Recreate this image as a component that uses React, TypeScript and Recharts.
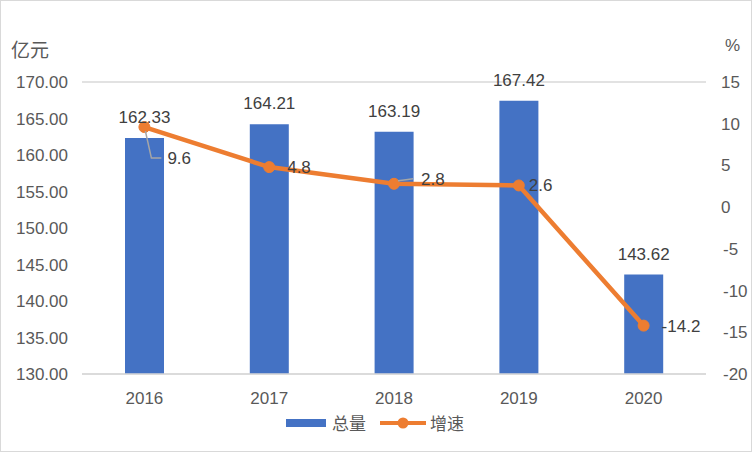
import {
  ComposedChart,
  Bar,
  Line,
  XAxis,
  YAxis,
  CartesianGrid,
  Legend,
  LabelList,
} from "recharts";

const years = ["2016", "2017", "2018", "2019", "2020"];
const totals = [162.33, 164.21, 163.19, 167.42, 143.62];
const growth = [9.6, 4.8, 2.8, 2.6, -14.2];
const leftTicks = [130, 135, 140, 145, 150, 155, 160, 165, 170];
const rightTicks = [-20, -15, -10, -5, 0, 5, 10, 15];

const FONT = '"Liberation Sans", "Noto Sans CJK SC", sans-serif';
const TEXT = "#595959";
const BLUE = "#4472C4";
const ORANGE = "#ED7D31";
const FS = 17;

// label placement for the growth points (dx, dy from the point), like Excel's manual labels
const growthLabelOffsets = [
  [23, 31],
  [18, 0],
  [27, -5],
  [10, 0],
  [18, 0],
];

const chartData = years.map((year, i) => ({
  year,
  total: totals[i],
  growth: growth[i],
}));

function GrowthLabel(props: any) {
  const { x, y, value, index } = props;
  const [dx, dy] = growthLabelOffsets[index] || [10, 0];
  const tx = x + dx;
  const ty = y + dy;
  return (
    <g>
      {index === 0 && (
        <polyline
          points={`${x + 1},${y + 4} ${x + 7},${ty} ${tx - 6},${ty}`}
          fill="none"
          stroke="#a6a6a6"
          strokeWidth={1.5}
        />
      )}
      {index === 2 && (
        <polyline
          points={`${x + 4},${y - 3} ${x + 12},${ty + 1} ${tx - 8},${ty}`}
          fill="none"
          stroke="#a6a6a6"
          strokeWidth={1.5}
        />
      )}
      <text
        x={tx}
        y={ty}
        dy={6}
        fill="#404040"
        fontSize={FS}
        fontFamily={FONT}
        textAnchor="start"
      >
        {value}
      </text>
    </g>
  );
}

function RightTick(props: any) {
  const { x, y, payload } = props;
  return (
    <text
      x={x + 13 + (payload.value < 0 ? 2 : 0)}
      y={y}
      dy={6}
      fill={TEXT}
      fontSize={FS}
      fontFamily={FONT}
      textAnchor="start"
    >
      {payload.value}
    </text>
  );
}

function LegendContent() {
  return (
    <div
      style={{
        display: "flex",
        justifyContent: "center",
        alignItems: "center",
        fontFamily: FONT,
        fontSize: FS,
        color: TEXT,
        marginLeft: -2,
        marginTop: 6,
      }}
    >
      <svg width={40} height={10} style={{ marginRight: 6 }}>
        <rect x={0} y={1} width={40} height={8} fill={BLUE} />
      </svg>
      <span style={{ marginRight: 14 }}>总量</span>
      <svg width={46} height={14} style={{ marginRight: 4 }}>
        <line x1={0} y1={7} x2={46} y2={7} stroke={ORANGE} strokeWidth={4} />
        <circle cx={23} cy={7} r={5.5} fill={ORANGE} />
      </svg>
      <span>增速</span>
    </div>
  );
}

export default function App() {
  return (
    <div
      style={{
        position: "fixed",
        left: 0,
        top: 0,
        width: 752,
        height: 452,
        background: "#fff",
        boxSizing: "border-box",
        border: "1px solid #d9d9d9",
        fontFamily: FONT,
      }}
    >
      <div
        style={{
          position: "absolute",
          left: 10,
          top: 34,
          fontSize: 19,
          color: TEXT,
          fontFamily: FONT,
        }}
      >
        亿元
      </div>
      <div
        style={{
          position: "absolute",
          left: 724,
          top: 35,
          fontSize: 17,
          color: TEXT,
          fontFamily: FONT,
        }}
      >
        %
      </div>
      <div style={{ position: "absolute", left: -1, top: -1 }}>
        <ComposedChart
          width={752}
          height={452}
          data={chartData}
          margin={{ top: 82, right: 0, bottom: 8, left: 0 }}
          barCategoryGap={43}
        >
          <CartesianGrid vertical={false} stroke="#d9d9d9" strokeWidth={1.5} />
          <XAxis
            dataKey="year"
            axisLine={{ stroke: "#d9d9d9", strokeWidth: 1.5 }}
            tickLine={false}
            tick={{ fill: TEXT, fontSize: FS, fontFamily: FONT }}
            tickMargin={12}
            height={30}
          />
          <YAxis
            yAxisId="left"
            domain={[130, 170]}
            ticks={leftTicks}
            width={82}
            axisLine={false}
            tickLine={false}
            tickSize={0}
            tickMargin={14}
            tickFormatter={(v: number) => v.toFixed(2)}
            tick={{ fill: TEXT, fontSize: FS, fontFamily: FONT }}
            allowDataOverflow
          />
          <YAxis
            yAxisId="right"
            orientation="right"
            domain={[-20, 15]}
            ticks={rightTicks}
            width={46}
            axisLine={false}
            tickLine={false}
            tickSize={0}
            tick={<RightTick />}
          />
          <Legend
            verticalAlign="bottom"
            height={40}
            content={<LegendContent />}
          />
          <Bar
            yAxisId="left"
            dataKey="total"
            name="总量"
            fill={BLUE}
            isAnimationActive={false}
          >
            <LabelList
              dataKey="total"
              position="top"
              offset={15}
              fill="#404040"
              fontSize={FS}
              fontFamily={FONT}
              formatter={(v: number) => v.toFixed(2)}
            />
          </Bar>
          <Line
            yAxisId="right"
            dataKey="growth"
            name="增速"
            stroke={ORANGE}
            strokeWidth={4.5}
            dot={{ r: 5.5, fill: ORANGE, stroke: ORANGE, strokeWidth: 1 }}
            activeDot={false}
            isAnimationActive={false}
          >
            <LabelList dataKey="growth" content={<GrowthLabel />} />
          </Line>
        </ComposedChart>
      </div>
    </div>
  );
}
